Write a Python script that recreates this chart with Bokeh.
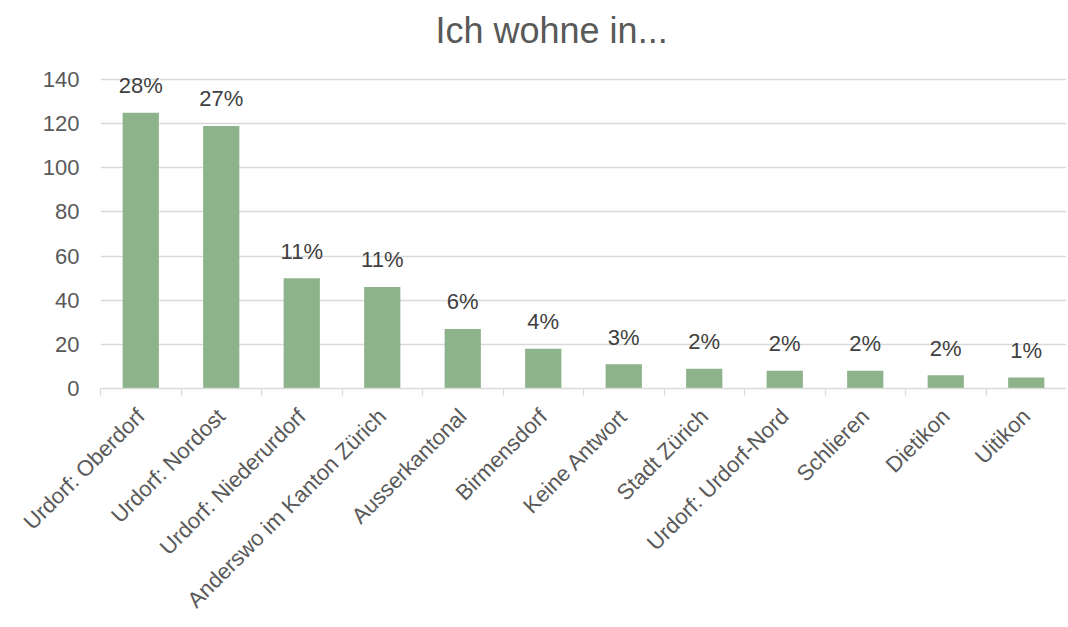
from math import pi
from bokeh.plotting import figure
from bokeh.models import (ColumnDataSource, Range1d, LinearAxis, FixedTicker)
from bokeh.embed import file_html
from bokeh.resources import INLINE
from bokeh.core.properties import value

# ---- data ----
title_text = "Ich wohne in..."
categories = ["Urdorf: Oberdorf", "Urdorf: Nordost", "Urdorf: Niederurdorf",
              "Anderswo im Kanton Zürich", "Ausserkantonal", "Birmensdorf",
              "Keine Antwort", "Stadt Zürich", "Urdorf: Urdorf-Nord",
              "Schlieren", "Dietikon", "Uitikon"]
counts = [125, 119, 50, 46, 27, 18, 11, 9, 8, 8, 6, 5]
pct_labels = ["28%", "27%", "11%", "11%", "6%", "4%", "3%", "2%", "2%", "2%", "2%", "1%"]
y_ticks = [0, 20, 40, 60, 80, 100, 120, 140]

FONT = "Liberation Sans"
TXT = "#595959"
GRID = "#D9D9D9"
BAR = "#8CB38A"

n_cat = len(categories)
centers = [i + 0.5 for i in range(n_cat)]
edges = list(range(n_cat + 1))

src = ColumnDataSource(dict(x=centers, cat=categories, n=counts, pct=pct_labels))

# y range extends a little above the top gridline so the top data label is not clipped
p = figure(x_range=Range1d(0, n_cat),
           y_range=Range1d(0, 150),
           width=1066, height=625, output_backend="svg", toolbar_location=None,
           x_axis_location=None, y_axis_location="left",
           min_border_left=100, min_border_right=0, min_border_top=57,
           min_border_bottom=237)

p.title.text = title_text
p.title.text_font = FONT
p.title.text_font_size = "36px"
p.title.text_font_style = "normal"
p.title.text_color = TXT
p.title.align = "left"
p.title.offset = 335
p.title.standoff = 14

p.outline_line_color = None
p.background_fill_color = "white"
p.border_fill_color = "white"

p.xgrid.grid_line_color = None
p.ygrid.grid_line_color = GRID
p.ygrid.grid_line_width = 1.3

p.yaxis.ticker = FixedTicker(ticks=y_ticks)
p.yaxis.axis_line_color = None
p.yaxis.major_tick_line_color = None
p.yaxis.minor_tick_line_color = None
p.yaxis.major_label_text_font = FONT
p.yaxis.major_label_text_font_size = "22px"
p.yaxis.major_label_text_color = TXT
p.yaxis.major_label_standoff = 15

# category axis: labels at centres, boundary ticks drawn as minor ticks
x_axis = LinearAxis(ticker=FixedTicker(ticks=centers, minor_ticks=edges),
                    major_label_overrides={c: name for c, name in zip(centers, categories)},
                    axis_line_color=GRID, axis_line_width=1.3,
                    major_tick_line_color=None, major_tick_out=0, major_tick_in=0,
                    minor_tick_line_color=GRID, minor_tick_line_width=1.3,
                    minor_tick_out=7, minor_tick_in=0,
                    major_label_orientation=pi / 4,
                    major_label_standoff=17,
                    major_label_text_font=FONT,
                    major_label_text_font_size="22px",
                    major_label_text_color=TXT)
p.add_layout(x_axis, "below")

p.vbar(x="x", top="n", width=0.45, source=src, fill_color=BAR, line_color=None)

p.text(x="x", y="n", text="pct", source=src, text_align="center",
       text_baseline="alphabetic", y_offset=-27,
       text_font=value(FONT), text_font_size="22px", text_color="#404040")

open("out.html", "w").write(file_html(p, INLINE))
